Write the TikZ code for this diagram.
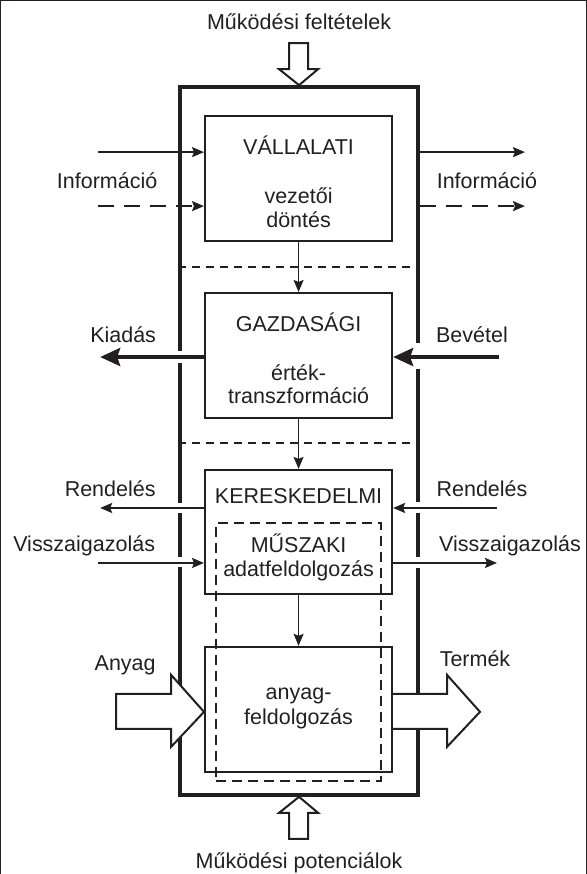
\documentclass[tikz,border=0pt]{standalone}
\usepackage{fontspec}
\setmainfont{Liberation Sans}
\usetikzlibrary{arrows.meta,calc}
\definecolor{ink}{RGB}{35,31,32}
\begin{document}
\begin{tikzpicture}[x=1pt,y=-1pt,
  every path/.style={draw=ink},
  lbl/.style={draw=none,inner sep=0pt,anchor=base,text=ink,font=\fontsize{21.5}{24}\selectfont},
  frame/.style={draw=ink,line width=4pt,minimum width=238pt,minimum height=708pt,inner sep=0pt},
  box/.style={draw=ink,line width=2.2pt,minimum width=187pt,minimum height=125pt,inner sep=0pt},
  zone/.style={draw=ink,line width=2pt,dash pattern=on 10pt off 6pt,minimum width=165pt,minimum height=258pt,inner sep=0pt},
  sep/.style={draw=ink,line width=2pt,dash pattern=on 8pt off 6pt},
  flow/.style={draw=ink,line width=1.9pt,-{Stealth[length=12pt,width=10pt,inset=2pt]}},
  down/.style={flow,line width=1.2pt},
  infodash/.style={flow,dash pattern=on 16pt off 10pt},
  money/.style={draw=ink,line width=3.8pt,-{Stealth[length=20pt,width=18pt,inset=3pt]}},
  hollow/.style={draw=ink,line width=2pt,fill=white,line join=miter},
  gap/.style={draw=none,fill=white}]
\useasboundingbox (0,0) rectangle (586,874);

% enclosing frame of the company
\node[frame] (frame) at (299,441) {};

% separators between the levels
\coordinate (s1) at (180,267);
\coordinate (s2) at (180,443);
\draw[sep] (s1 -| frame.west) -- (s1 -| frame.east);
\draw[sep] (s2 -| frame.west) -- (s2 -| frame.east);

% openings in the frame where flows pass through
\fill[gap] (176,351) rectangle (184,363);
\fill[gap] (414,343) rectangle (422,369);
\fill[gap] (176,503) rectangle (184,513);
\fill[gap] (414,502) rectangle (422,513);
\fill[gap] (176,557) rectangle (184,567);
\fill[gap] (414,557) rectangle (422,568);

% level boxes
\node[box] (vall) at (298.5,178.5) {};
\node[box] (gazd) at (298.5,355.5) {};
\node[box,minimum height=124pt] (ker) at (298.5,532) {};
\node[box] (anyf) at (298.5,709.5) {};
\node[zone] (musz) at (298.5,652) {};

% texts inside the boxes
\node[lbl] (t1a) at (298.5,154) {VÁLLALATI};
\node[lbl] (t1b) at (298.5,203) {vezetői};
\node[lbl] (t1c) at (298.5,227) {döntés};
\node[lbl] (t2a) at (298.5,331) {GAZDASÁGI};
\node[lbl] (t2b) at (298.5,380) {érték-};
\node[lbl] (t2c) at (298.5,403) {transzformáció};
\node[lbl] (t3a) at (298.5,504) {KERESKEDELMI};
\node[lbl] (t3b) at (298.5,553) {MŰSZAKI};
\node[lbl] (t3c) at (298.5,577) {adatfeldolgozás};
\node[lbl] (t4a) at (298.5,700) {anyag-};
\node[lbl] (t4b) at (298.5,725) {feldolgozás};

% flows between the levels
\draw[down] (vall.south) -- (gazd.north);
\draw[down] (gazd.south) -- (ker.north);
\draw[down] (ker.south) -- (anyf.north);

% information in and out
\coordinate (iL1) at (98,152);
\coordinate (iL2) at (98,206);
\coordinate (iR1) at (525,152);
\coordinate (iR2) at (525,206);
\draw[flow] (iL1) -- (iL1 -| vall.west);
\draw[infodash] (iL2) -- (iL2 -| vall.west);
\draw[flow] (iR1 -| frame.east) -- (iR1);
\draw[infodash] (iR2 -| frame.east) -- (iR2);
\node[lbl] (infoL) at (107,188) {Információ};
\node[lbl] (infoR) at (487,188) {Információ};

% money flows
\coordinate (kiad) at (100,357);
\coordinate (bev) at (499,357);
\draw[money] (kiad -| gazd.west) -- (kiad);
\draw[money] (bev) -- (bev -| gazd.east);
\node[lbl] (kiadl) at (123,342) {Kiadás};
\node[lbl] (bevl) at (472,342) {Bevétel};

% orders and confirmations
\coordinate (rL) at (100,508);
\coordinate (rR) at (497,508);
\coordinate (vL) at (98,563);
\coordinate (vR) at (497,563);
\draw[flow] (rL -| ker.west) -- (rL);
\draw[flow] (rR) -- (rR -| ker.east);
\draw[flow] (vL) -- (vL -| ker.west);
\draw[flow] (vR -| ker.east) -- (vR);
\node[lbl] (rLl) at (110,497) {Rendelés};
\node[lbl] (rRl) at (482,497) {Rendelés};
\node[lbl] (vLl) at (84,552) {Visszaigazolás};
\node[lbl] (vRl) at (510,552) {Visszaigazolás};

% material in, product out
\draw[hollow] (116,694) -- (171,694) -- (171,675) -- (anyf.west |- 0,712) -- (171,747) -- (171,729) -- (116,729) -- cycle;
\draw[hollow] (anyf.east |- 0,694) -- (447,694) -- (447,675) -- (480,712) -- (447,747) -- (447,729) -- (anyf.east |- 0,729);
\node[lbl] (anyl) at (125,671) {Anyag};
\node[lbl] (terl) at (475,667) {Termék};

% operating conditions and potentials
\draw[hollow] (289,43) -- (308,43) -- (308,69) -- (318,69) -- (frame.north) -- (279,69) -- (289,69) -- cycle;
\draw[hollow] (289,839) -- (308,839) -- (308,813) -- (318,813) -- (frame.south) -- (279,813) -- (289,813) -- cycle;
\node[lbl] (top) at (299,29) {Működési feltételek};
\node[lbl] (bot) at (299,869) {Működési potenciálok};
\end{tikzpicture}
\end{document}
